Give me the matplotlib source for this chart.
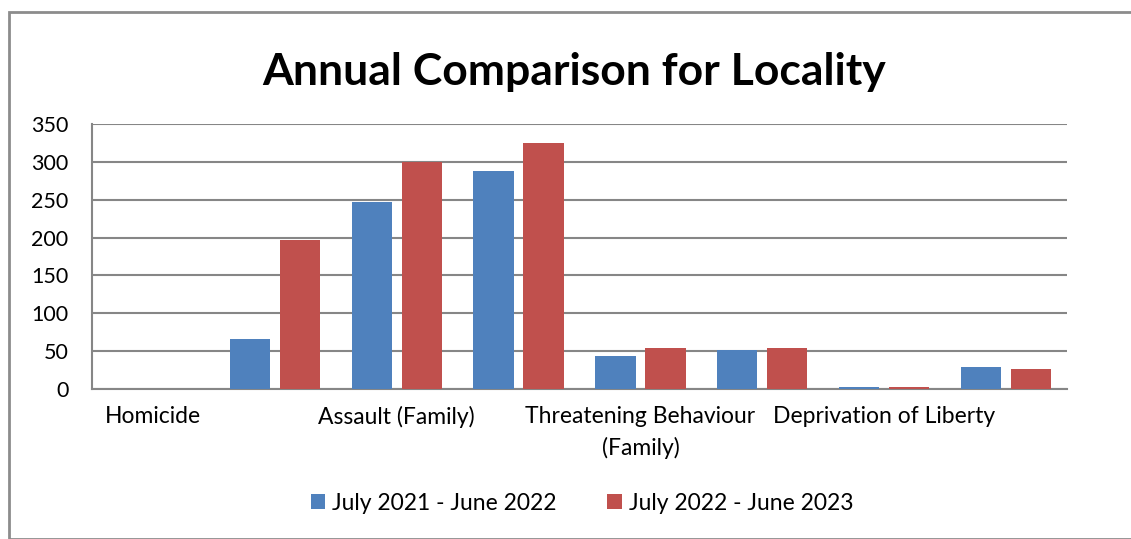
import matplotlib
matplotlib.use("Agg")
import matplotlib.pyplot as plt
import numpy as np
from matplotlib.patches import Rectangle

# categories (odd ones have labels hidden in the original chart)
categories = ["Homicide", "", "Assault (Family)", "",
              "Threatening Behaviour\n(Family)", "", "Deprivation of Liberty", ""]
series_names = ["July 2021 - June 2022", "July 2022 - June 2023"]
values_2122 = [0, 66, 247, 288, 43, 51, 3, 29]
values_2223 = [0, 197, 300, 325, 54, 54, 3, 27]
colors = ["#4F81BD", "#C0504D"]
yticks = [0, 50, 100, 150, 200, 250, 300, 350]

plt.rcParams["font.family"] = ["Lato", "DejaVu Sans"]

W, H = 1131, 539
fig = plt.figure(figsize=(W / 100, H / 100), dpi=100)

# chart area border
fig.patches.append(Rectangle((9 / W, 0), 1.2, (H - 12) / H, transform=fig.transFigure,
                             fill=False, edgecolor="#8C8C8C", linewidth=2))

ax = fig.add_axes([92 / W, (H - 389) / H, (1067 - 92) / W, (389 - 124) / H])

x = np.arange(len(categories))
bw = 0.33
gap = 0.08
ax.bar(x - (bw + gap) / 2, values_2122, width=bw, color=colors[0], label=series_names[0], zorder=3)
ax.bar(x + (bw + gap) / 2, values_2223, width=bw, color=colors[1], label=series_names[1], zorder=3)

ax.set_xlim(-0.5, len(categories) - 0.5)
ax.set_ylim(0, 350)
ax.set_yticks(yticks)
ax.set_xticks(x)
ax.set_xticklabels(categories, fontsize=16.5, linespacing=1.55)
ax.tick_params(axis="y", labelsize=15.5, length=0, pad=17)
ax.tick_params(axis="x", length=0, pad=12)
ax.grid(axis="y", color="#868686", linewidth=1.5, zorder=0)
for s in ["top", "right"]:
    ax.spines[s].set_visible(False)
for s in ["left", "bottom"]:
    ax.spines[s].set_color("#868686")
    ax.spines[s].set_linewidth(1.5)

fig.text(574 / W, 1 - 72 / H, "Annual Comparison for Locality", ha="center", va="center",
         fontsize=32, fontweight="bold")

fig.legend(loc="center", bbox_to_anchor=(582 / W, 1 - 503 / H), ncol=2, frameon=False,
           fontsize=16.5, handlelength=0.65, handleheight=0.65, handletextpad=0.3,
           columnspacing=2.2)

fig.savefig("out.png", dpi=100)
